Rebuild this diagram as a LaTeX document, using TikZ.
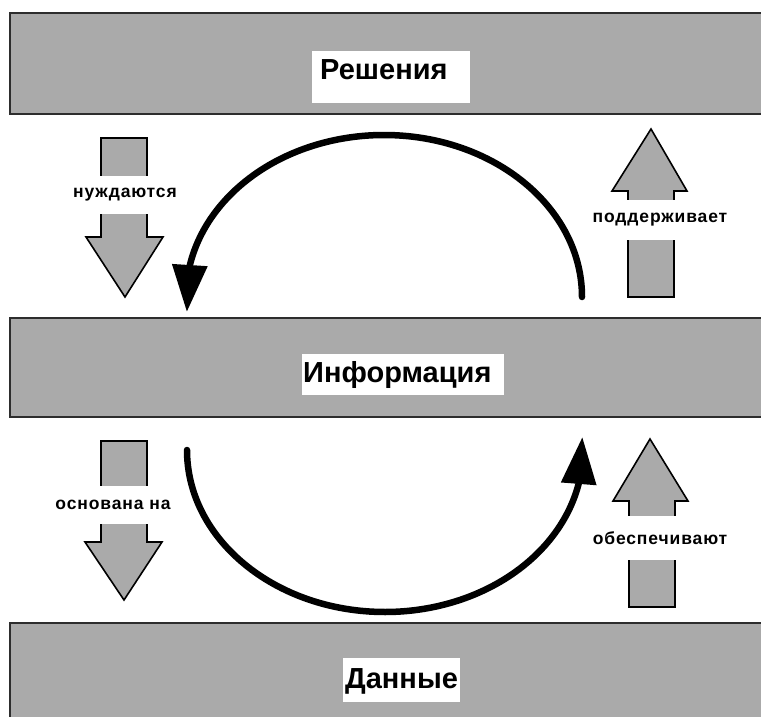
\documentclass[tikz,border=0pt]{standalone}
\usepackage{fontspec}
\setmainfont{Liberation Sans}
\newfontfamily\labelfont[LetterSpace=5]{Liberation Sans}
\usetikzlibrary{arrows.meta,bending}
\definecolor{bandgray}{RGB}{170,170,170}
\definecolor{bandline}{RGB}{45,45,45}
\tikzset{
  band/.style={fill=bandgray, draw=bandline, line width=2.5pt},
  bandlabel/.style={fill=white, anchor=base west, align=left, inner ysep=0pt,
    font=\fontsize{29}{30}\selectfont\bfseries},
  fatarrow/.style={fill=bandgray, draw=black, line width=1.6pt, line join=miter},
  arrowlabel/.style={fill=white, inner xsep=1pt, inner ysep=0pt, minimum height=38pt,
    font=\labelfont\fontsize{17.5}{18}\selectfont\bfseries},
  cycleline/.style={line width=6.5pt, line cap=round, -{Triangle[length=47pt,width=34pt]}},
}
\begin{document}
\begin{tikzpicture}[x=1pt,y=-1pt]
\useasboundingbox (0,0) rectangle (761,717);
\clip (0,0) rectangle (761,717);
% the three levels
\draw[band] (10,13) rectangle (775,114);
\draw[band] (10,318) rectangle (775,417);
\draw[band] (10,623) rectangle (775,730);
\node[bandlabel, text width=142pt, inner xsep=8pt, text height=29pt, text depth=23pt] (resh) at (312,80) {Решения};
\node[bandlabel, text width=200pt, inner xsep=1pt, text height=28pt, text depth=13pt] (info) at (302,382) {Информация};
\node[bandlabel, text width=113pt, inner xsep=2pt, text height=30pt, text depth=14pt] (data) at (343,688) {Данные};
% block arrows
\draw[fatarrow] (101,138) -- (147,138) -- (147,237) -- (163,237) -- (125,297) -- (86,237) -- (101,237) -- cycle;
\draw[fatarrow] (101,441) -- (147,441) -- (147,542) -- (162,542) -- (124,600) -- (85,542) -- (101,542) -- cycle;
\draw[fatarrow] (628,297) -- (674,297) -- (674,191) -- (687,191) -- (651,129) -- (612,191) -- (628,191) -- cycle;
\draw[fatarrow] (629,607) -- (675,607) -- (675,501) -- (688,501) -- (650,439) -- (613,501) -- (629,501) -- cycle;
\node[arrowlabel] (need) at (125,195) {нуждаются};
\node[arrowlabel, minimum height=40pt] (support) at (660,220) {поддерживает};
\node[arrowlabel] (based) at (113,505) {основана на};
\node[arrowlabel, minimum height=44pt] (provide) at (660,538) {обеспечивают};
% the cycle
\coordinate (upstart) at (582,297);
\coordinate (lowstart) at (187,450);
\draw[cycleline] (upstart) arc[start angle=0, end angle=-185.3, x radius=198, y radius=162];
\draw[cycleline] (lowstart) arc[start angle=180, end angle=-4.6, x radius=198, y radius=162];
\end{tikzpicture}
\end{document}
